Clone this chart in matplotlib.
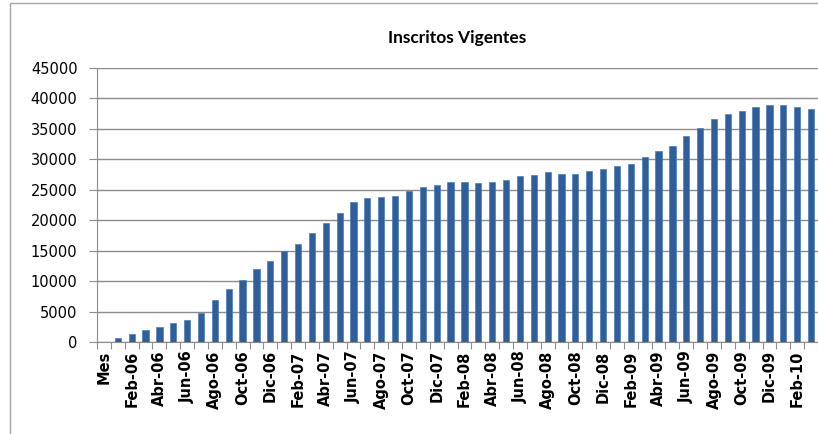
import numpy as np
import matplotlib
matplotlib.use('Agg')
import matplotlib.pyplot as plt
from matplotlib.patches import Rectangle

# categories: "Mes" header + monthly from Ene-06 to Mar-10
month_names = ['Ene', 'Feb', 'Mar', 'Abr', 'May', 'Jun',
               'Jul', 'Ago', 'Sep', 'Oct', 'Nov', 'Dic']
years = ['06', '07', '08', '09', '10']
categories = ['Mes'] + [f"{m}-{y}" for y in years for m in month_names][:51]

inscritos = [
    0, 600, 1350, 1900, 2450, 3040, 3590, 4730, 6960, 8690,
    10160, 12010, 13370, 14940, 16080, 17880, 19560, 21240, 22930, 23580,
    23740, 23900, 24880, 25430, 25810, 26350, 26350, 26190, 26350, 26570,
    27330, 27500, 27870, 27660, 27660, 28090, 28420, 28960, 29180, 30320,
    31300, 32170, 33900, 35210, 36570, 37490, 37870, 38630, 38850, 38850,
    38630, 38260,
]
yticks = list(range(0, 45001, 5000))

W, H = 818, 434
fig = plt.figure(figsize=(W / 100, H / 100), dpi=100)

# chart frame (light grey border, cut off on right and bottom)
fig.patches.append(Rectangle((10 / W, -0.05), 1.2, (H - 3) / H + 0.05,
                             transform=fig.transFigure, fill=False,
                             edgecolor='#a6a6a6', linewidth=1.0))

ax = fig.add_axes([97 / W, (H - 342) / H, 721 / W, 274 / H])

x = np.arange(len(categories))
ax.bar(x, inscritos, width=0.45, color='#2f5e9b', edgecolor='#4a7ebb',
       linewidth=0.5, zorder=3)

ax.set_xlim(-0.5, len(categories) - 0.5)
ax.set_ylim(0, 45000)
ax.set_yticks(yticks)
ax.set_yticklabels([str(v) for v in yticks], fontsize=10.5, family='DejaVu Sans')
ax.yaxis.grid(True, color='#8c8c8c', linewidth=1.0, zorder=0)

# tick marks between categories, labels every other category
ax.set_xticks(np.arange(-0.5, len(categories), 1.0))
ax.set_xticklabels([])
ax.set_xticks(x[::2], minor=True)
ax.set_xticklabels(categories[::2], minor=True, rotation=90,
                   fontsize=10.5, fontweight='bold', family='DejaVu Sans')
ax.tick_params(axis='x', which='major', length=5, color='#8c8c8c', direction='out')
ax.tick_params(axis='x', which='minor', length=0, pad=6)
ax.tick_params(axis='y', length=6, color='#8c8c8c', pad=8)

for s in ['top', 'right']:
    ax.spines[s].set_visible(False)
for s in ['left', 'bottom']:
    ax.spines[s].set_color('#8c8c8c')

ax.set_title('Inscritos Vigentes', fontsize=12.5, fontweight='bold',
             family='Lato', pad=18)

fig.savefig('out.png', dpi=100)
